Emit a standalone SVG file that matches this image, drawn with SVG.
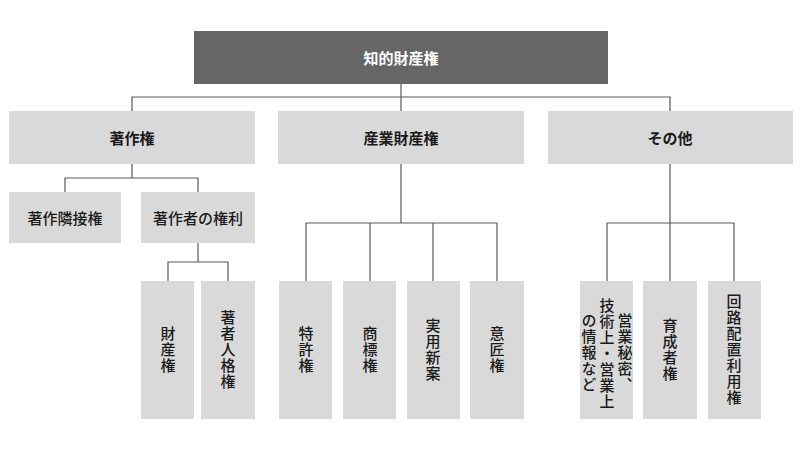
<svg xmlns="http://www.w3.org/2000/svg" width="800" height="450" viewBox="0 0 800 450">
<style>
.box{fill:#d9d9d9}
.top{fill:#666666}
.ln{fill:none;stroke:#5a5a5a;stroke-width:1.2}
text{font-family:"Noto Sans CJK JP","Noto Sans CJK SC",sans-serif;font-size:15px;fill:#1a1a1a;font-weight:500}
.b{font-weight:700}
.w{fill:#ffffff;font-weight:700}
.h{text-anchor:middle;dominant-baseline:central}
.v{writing-mode:vertical-rl;text-anchor:middle;letter-spacing:1px}
</style>
<rect width="800" height="450" fill="#ffffff"/>
<g id="connectors">
<path class="ln" d="M401,84V97M132,111V97H670V111M401,97V111"/>
<path class="ln" d="M132,164V178M65,192V178H198V192"/>
<path class="ln" d="M198,243V262M168,281V262H228V281"/>
<path class="ln" d="M401,164V223M306,281V223H497V281M370,223V281M433,223V281"/>
<path class="ln" d="M670,164V223M607,281V223H734V281M670,223V281"/>
</g>
<g id="n-root"><rect class="top" x="194" y="31" width="414" height="53"/><text class="h w" x="401" y="57.5">知的財産権</text></g>
<g id="n-chosakuken"><rect class="box" x="9" y="111" width="246" height="53"/><text class="h b" x="132" y="137.5">著作権</text></g>
<g id="n-sangyo"><rect class="box" x="278" y="111" width="246" height="53"/><text class="h b" x="401" y="137.5">産業財産権</text></g>
<g id="n-sonota"><rect class="box" x="548" y="111" width="245" height="53"/><text class="h b" x="670" y="137.5">その他</text></g>
<g id="n-rinsetsu"><rect class="box" x="9" y="192" width="112" height="51"/><text class="h" x="65" y="217.5">著作隣接権</text></g>
<g id="n-chosakusha"><rect class="box" x="141" y="192" width="114" height="51"/><text class="h" x="198" y="217.5">著作者の権利</text></g>
<g id="n-zaisan"><rect class="box" x="141" y="281" width="53" height="138"/><text class="v" x="168" y="350">財産権</text></g>
<g id="n-jinkaku"><rect class="box" x="201" y="281" width="54" height="138"/><text class="v" x="228" y="350">著者人格権</text></g>
<g id="n-tokkyo"><rect class="box" x="279" y="281" width="53" height="138"/><text class="v" x="306" y="350">特許権</text></g>
<g id="n-shohyo"><rect class="box" x="343" y="281" width="53" height="138"/><text class="v" x="370" y="350">商標権</text></g>
<g id="n-jitsuyo"><rect class="box" x="407" y="281" width="53" height="138"/><text class="v" x="433" y="350">実用新案</text></g>
<g id="n-isho"><rect class="box" x="470" y="281" width="54" height="138"/><text class="v" x="497" y="350">意匠権</text></g>
<g id="n-eigyo"><rect class="box" x="580" y="281" width="53" height="138"/>
<text class="v" x="625" y="353">営業秘密、</text>
<text class="v" x="607" y="354">技術上・営業上</text>
<text class="v" x="589" y="353">の情報など</text></g>
<g id="n-ikusei"><rect class="box" x="643" y="281" width="54" height="138"/><text class="v" x="670" y="350">育成者権</text></g>
<g id="n-kairo"><rect class="box" x="708" y="281" width="53" height="138"/><text class="v" x="734" y="350">回路配置利用権</text></g>
</svg>
